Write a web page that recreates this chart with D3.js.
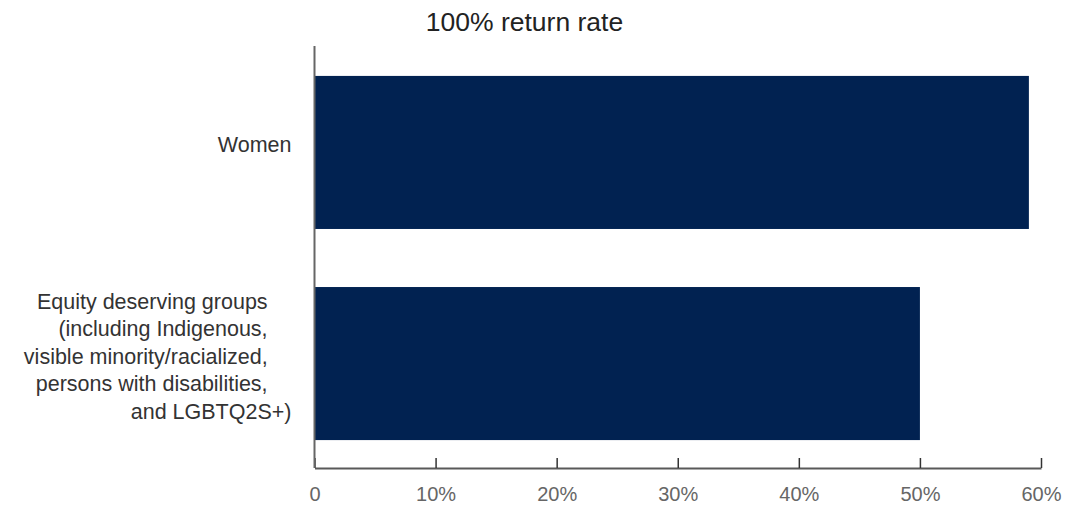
<!DOCTYPE html>
<html>
<head>
<meta charset="utf-8">
<script src="https://cdn.jsdelivr.net/npm/d3@7"></script>
<style>
  html, body { margin: 0; padding: 0; background: #fff; }
  svg { display: block; font-family: "Liberation Sans", Arial, sans-serif; }
</style>
</head>
<body>
<svg id="chart" width="1066" height="506"></svg>
<script>
// Share of each group at a 100% return rate
const title = "100% return rate";
const categories = [
  ["Women"],
  ["Equity deserving groups    ",
   "(including Indigenous,    ",
   "visible minority/racialized,    ",
   "persons with disabilities,    ",
   "and LGBTQ2S+)"]
];
const values = [59, 50];
const tickValues = [0, 10, 20, 30, 40, 50, 60];
const tickLabels = ["0", "10%", "20%", "30%", "40%", "50%", "60%"];

const svg = d3.select("#chart");
const margin = { top: 46, right: 25, bottom: 38, left: 314.5 };
const W = 1066, H = 506;

const x = d3.scaleLinear()
  .domain([0, 60])
  .range([margin.left, W - margin.right]);

const keys = categories.map((c, i) => "c" + i);
const y = d3.scaleBand()
  .domain(keys)
  .range([margin.top + 1, H - margin.bottom + 1])
  .paddingInner(0.275)
  .paddingOuter(0.137);

// Bars
svg.append("g")
  .selectAll("rect")
  .data(values)
  .join("rect")
  .attr("x", x(0))
  .attr("y", (d, i) => y(keys[i]))
  .attr("width", d => x(d) - x(0))
  .attr("height", y.bandwidth())
  .attr("fill", "#012251");

// Bottom axis, ticks pointing up into the plot
const xAxis = d3.axisBottom(x)
  .tickValues(tickValues)
  .tickFormat((d, i) => tickLabels[i])
  .tickSizeInner(-10)
  .tickSizeOuter(0)
  .tickPadding(19);

const gx = svg.append("g")
  .attr("transform", `translate(0,${H - margin.bottom})`)
  .call(xAxis);
gx.select(".domain").attr("stroke", "#595959").attr("stroke-width", 2);
gx.selectAll(".tick line").attr("stroke", "#333").attr("stroke-width", 1.5);
gx.selectAll(".tick text")
  .attr("fill", "#666")
  .style("font-size", "20px")
  .style("font-family", "'Liberation Sans', Arial, sans-serif");

// Left axis line
svg.append("line")
  .attr("x1", x(0)).attr("x2", x(0))
  .attr("y1", margin.top).attr("y2", H - margin.bottom)
  .attr("stroke", "#666")
  .attr("stroke-width", 2);

// Category labels, multi-line, right aligned
const lineHeight = 27.5;
const labelG = svg.append("g");
categories.forEach((lines, i) => {
  const cy = y(keys[i]) + y.bandwidth() / 2;
  const t = labelG.append("text")
    .attr("text-anchor", "end")
    .attr("fill", "#333")
    .style("font-size", "21.5px")
    .style("white-space", "pre");
  lines.forEach((ln, j) => {
    t.append("tspan")
      .attr("x", x(0) - 23)
      .attr("y", cy + (j - (lines.length - 1) / 2) * lineHeight)
      .text(ln);
  });
});

// Title
svg.append("text")
  .attr("x", 524.5)
  .attr("y", 31)
  .attr("text-anchor", "middle")
  .attr("fill", "#222")
  .style("font-size", "26.5px")
  .text(title);
</script>
</body>
</html>
